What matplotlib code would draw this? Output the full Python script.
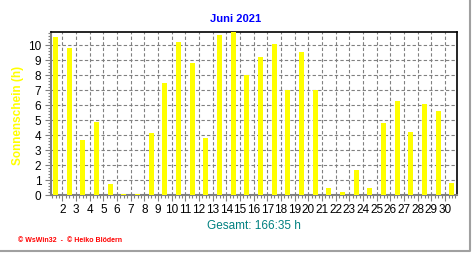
import matplotlib
matplotlib.use("Agg")
import matplotlib.pyplot as plt
from matplotlib.ticker import MultipleLocator
from matplotlib.lines import Line2D

days = list(range(1, 31))
sunshine = [10.53, 9.78, 3.65, 4.87, 0.71, 0.05, 0.03, 4.11, 7.45, 10.2,
            8.8, 3.78, 10.65, 10.83, 7.98, 9.18, 10.05, 6.98, 9.51, 6.98,
            0.45, 0.18, 1.65, 0.45, 4.78, 6.25, 4.18, 6.05, 5.58, 0.8]
tick_days = list(range(2, 31))
title = "Juni 2021"
total_text = "Gesamt: 166:35 h"

plt.rcParams['font.family'] = ['Liberation Sans', 'DejaVu Sans']

W, H = 472, 255
fig = plt.figure(figsize=(W / 100, H / 100), dpi=100)
fig.patch.set_facecolor("white")

left, right, top, bottom = 51, 457, 33, 196
ax = fig.add_axes([left / W, 1 - bottom / H, (right - left) / W, (bottom - top) / H])

# bars sit between the labelled gridlines
ax.bar([d + 0.5 for d in days], sunshine, width=0.37, color="#ffff00", zorder=3)

ax.set_xlim(1.17, 30.87)
ax.set_ylim(-0.02, 10.85)

ax.set_xticks(tick_days)
ax.set_xticklabels([str(d) for d in tick_days])
ax.xaxis.set_minor_locator(MultipleLocator(0.25))
ax.set_yticks(range(0, 11))
ax.yaxis.set_minor_locator(MultipleLocator(0.2))

ax.grid(True, which="major", color="#808080", linestyle=(0, (3, 2)), linewidth=0.8, zorder=0)

ax.tick_params(axis="x", which="major", length=4, width=0.8, color="#808080",
               labelsize=8.5, pad=2)
ax.tick_params(axis="x", which="minor", length=2, width=0.8, color="#808080")
ax.tick_params(axis="y", which="major", length=4, width=0.8, color="#808080",
               labelsize=8.5, pad=3)
ax.tick_params(axis="y", which="minor", length=2, width=0.8, color="#808080")

for s in ["left", "bottom"]:
    ax.spines[s].set_color("#808080")
    ax.spines[s].set_linewidth(1.5)
for s in ["top", "right"]:
    ax.spines[s].set_color("black")
    ax.spines[s].set_linewidth(1.2)

fig.text(236 / W, 1 - 19 / H, title, color="#0000ff", fontsize=8, fontweight="bold",
         ha="center", va="center")
fig.text(18 / W, 1 - 115 / H, "Sonnenschein (h)", color="#ffff00", fontsize=8.5,
         fontweight="bold", rotation=90, ha="center", va="center")
fig.text(254 / W, 1 - 226 / H, total_text, color="#008080", fontsize=8.5,
         ha="center", va="center")
fig.text(18 / W, 1 - 241 / H, "© WsWin32  -  © Heiko Blödern", color="#ff0000",
         fontsize=5, fontweight="bold", ha="left", va="center")

# grey frame on the right and bottom of the picture
fig.add_artist(Line2D([0, 470 / W, 470 / W], [1 - 252 / H, 1 - 252 / H, 1],
                      transform=fig.transFigure, color="#a0a0a0", linewidth=1.5))

fig.savefig("out.png", dpi=100)
